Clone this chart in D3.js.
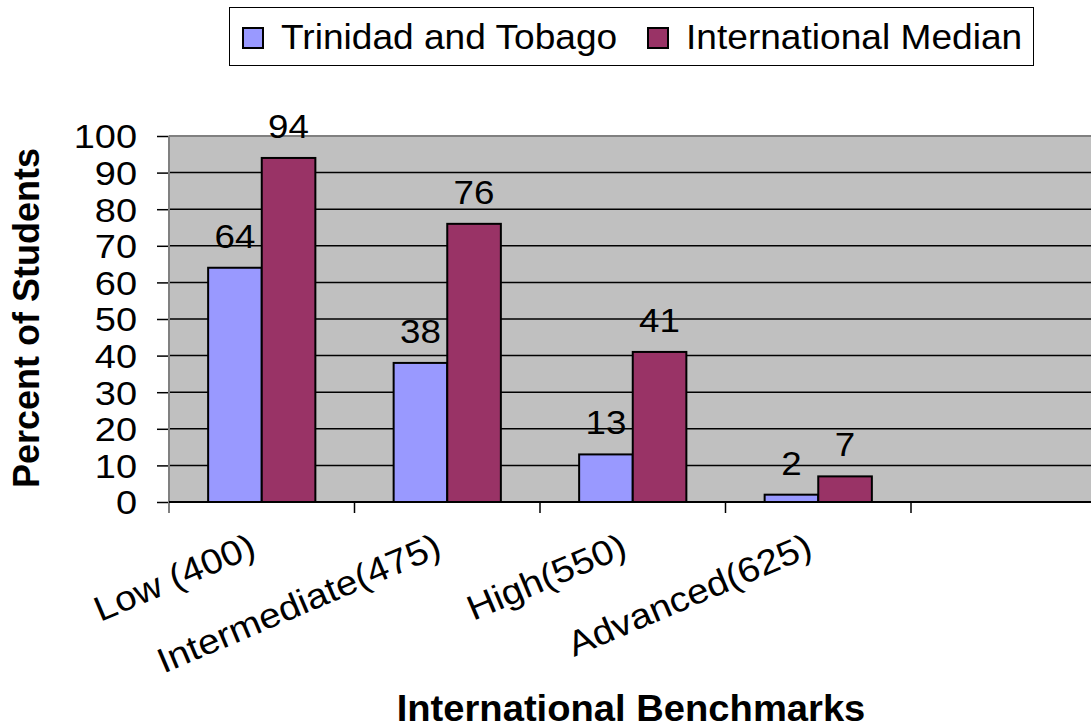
<!DOCTYPE html>
<html>
<head>
<meta charset="utf-8">
<script src="https://cdn.jsdelivr.net/npm/d3@7"></script>
<style>
  html, body { margin: 0; padding: 0; background: #fff; }
  svg { display: block; font-family: "Liberation Sans", Arial, sans-serif; }
</style>
</head>
<body>
<svg id="chart" width="1091" height="728"></svg>
<script>
// Benchmark categories (the last slot is an empty category on the axis)
const categories = ["Low (400)", "Intermediate(475)", "High(550)", "Advanced(625)", ""];
const seriesNames = ["Trinidad and Tobago", "International Median"];
const trinidadValues = [64, 38, 13, 2];
const medianValues = [94, 76, 41, 7];
const yTicks = [0, 10, 20, 30, 40, 50, 60, 70, 80, 90, 100];
const seriesColors = ["#9999FF", "#993366"];

const svg = d3.select("#chart");

// Stretch a text element along its reading direction
function stretch(sel, factor) {
  sel.each(function () {
    const len = this.getComputedTextLength();
    d3.select(this).attr("textLength", len * factor).attr("lengthAdjust", "spacingAndGlyphs");
  });
}

const plot = { left: 169, top: 136, bottom: 502, band: 185.5 };
const x = d3.scaleBand()
  .domain(d3.range(categories.length))
  .range([plot.left, plot.left + plot.band * categories.length]);
const y = d3.scaleLinear().domain([0, 100]).range([plot.bottom, plot.top]);
const xInner = d3.scaleBand()
  .domain(d3.range(seriesNames.length))
  .range([0, x.bandwidth()])
  .paddingOuter(0.73)
  .paddingInner(0);

// Plot area
svg.append("rect")
  .attr("x", plot.left).attr("y", plot.top)
  .attr("width", x.range()[1] - plot.left).attr("height", plot.bottom - plot.top)
  .attr("fill", "#C0C0C0");

// Horizontal gridlines
svg.append("g").selectAll("line")
  .data(yTicks.filter(d => d > 0 && d < 100))
  .join("line")
  .attr("x1", plot.left).attr("x2", x.range()[1])
  .attr("y1", d => y(d)).attr("y2", d => y(d))
  .attr("stroke", "#000").attr("stroke-width", 1.5);
svg.append("line")
  .attr("x1", plot.left).attr("x2", x.range()[1])
  .attr("y1", y(100)).attr("y2", y(100))
  .attr("stroke", "#808080").attr("stroke-width", 2);

// Bars
const groups = svg.append("g").selectAll("g")
  .data(trinidadValues.map((v, i) => [v, medianValues[i]]))
  .join("g")
  .attr("transform", (d, i) => `translate(${x(i)},0)`);

groups.selectAll("rect")
  .data(d => d)
  .join("rect")
  .attr("x", (d, j) => xInner(j))
  .attr("y", d => y(d))
  .attr("width", xInner.bandwidth())
  .attr("height", d => y(0) - y(d))
  .attr("fill", (d, j) => seriesColors[j])
  .attr("stroke", "#000").attr("stroke-width", 2);

// Value labels
groups.selectAll("text")
  .data(d => d)
  .join("text")
  .attr("x", (d, j) => xInner(j) + xInner.bandwidth() / 2)
  .attr("y", d => y(d) - 20)
  .attr("text-anchor", "middle")
  .attr("font-size", 34)
  .attr("fill", "#000")
  .text(d => d)
  .call(stretch, 1.08);

// Y axis
const yAxis = svg.append("g")
  .attr("transform", `translate(${plot.left},0)`)
  .call(d3.axisLeft(y).tickValues(yTicks).tickSize(12).tickPadding(20));
yAxis.select(".domain").remove();
yAxis.selectAll(".tick line").attr("stroke", "#000").attr("stroke-width", 1.5);
yAxis.selectAll(".tick text")
  .attr("font-size", 33)
  .attr("font-family", "'Liberation Sans', Arial, sans-serif")
  .attr("fill", "#000")
  .attr("dy", "0.36em")
  .call(stretch, 1.15);
svg.append("line")
  .attr("x1", plot.left).attr("x2", plot.left)
  .attr("y1", plot.top).attr("y2", plot.bottom + 11)
  .attr("stroke", "#808080").attr("stroke-width", 2);

// X axis line and category ticks
svg.append("line")
  .attr("x1", plot.left).attr("x2", x.range()[1])
  .attr("y1", plot.bottom).attr("y2", plot.bottom)
  .attr("stroke", "#000").attr("stroke-width", 2);
svg.append("g").selectAll("line")
  .data(d3.range(1, categories.length + 1))
  .join("line")
  .attr("x1", i => plot.left + i * x.step()).attr("x2", i => plot.left + i * x.step())
  .attr("y1", plot.bottom).attr("y2", plot.bottom + 11)
  .attr("stroke", "#000").attr("stroke-width", 1.5);

// Category labels, rotated
svg.append("g").selectAll("text")
  .data(categories.filter(c => c !== ""))
  .join("text")
  .attr("transform", (d, i) => `translate(${x(i) + x.bandwidth() / 2 - 4},555) rotate(-23)`)
  .attr("text-anchor", "end")
  .attr("font-size", 35)
  .attr("fill", "#000")
  .text(d => d)
  .call(stretch, 1.1);

// Axis titles
svg.append("text")
  .attr("transform", "translate(39,318) rotate(-90)")
  .attr("text-anchor", "middle")
  .attr("font-size", 36)
  .attr("font-weight", "bold")
  .text("Percent of Students");

svg.append("text")
  .attr("x", 631).attr("y", 721)
  .attr("text-anchor", "middle")
  .attr("font-size", 36)
  .attr("font-weight", "bold")
  .text("International Benchmarks")
  .call(stretch, 1.06);

// Legend
const legend = svg.append("g");
legend.append("rect")
  .attr("x", 229.5).attr("y", 7.5).attr("width", 804).attr("height", 58)
  .attr("fill", "#fff").attr("stroke", "#000").attr("stroke-width", 1);
const legendX = [243, 648];
const legendItems = legend.selectAll("g.item")
  .data(seriesNames)
  .join("g")
  .attr("class", "item")
  .attr("transform", (d, i) => `translate(${legendX[i]},28)`);
legendItems.append("rect")
  .attr("width", 20).attr("height", 20)
  .attr("fill", (d, i) => seriesColors[i])
  .attr("stroke", "#000").attr("stroke-width", 2);
legendItems.append("text")
  .attr("x", 38).attr("y", 21)
  .attr("font-size", 35)
  .attr("fill", "#000")
  .text(d => d)
  .call(stretch, 1.06);
</script>
</body>
</html>
